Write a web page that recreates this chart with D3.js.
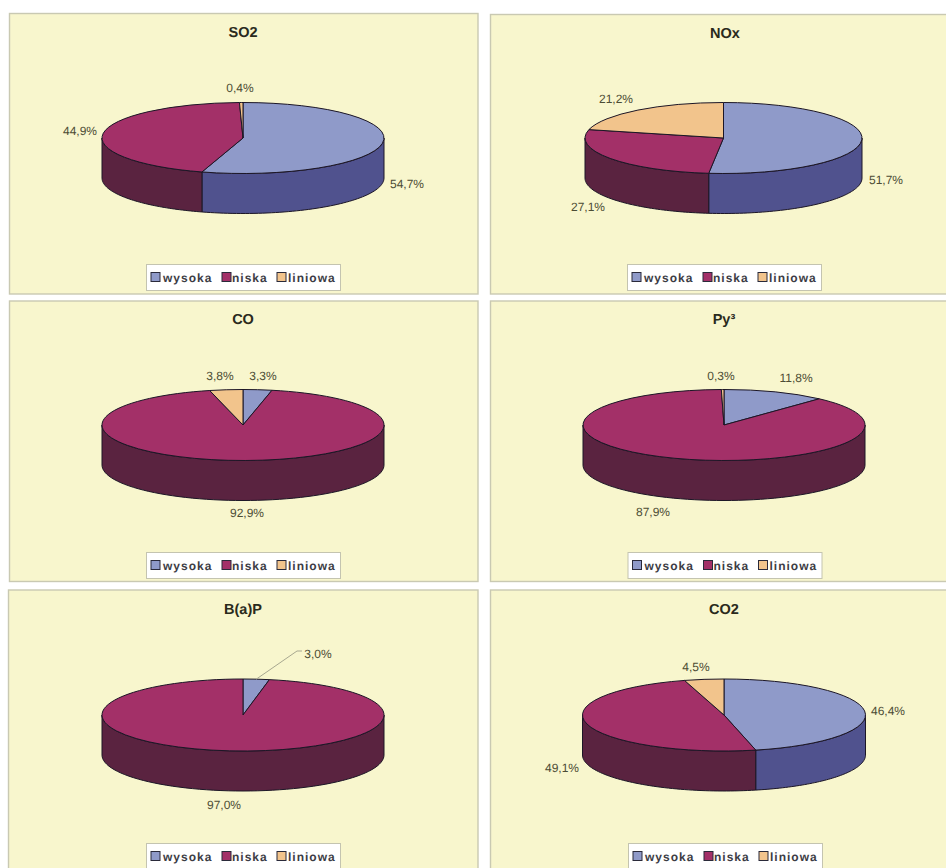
<!DOCTYPE html>
<html lang="pl">
<head>
<meta charset="utf-8">
<title>Emisje według źródeł</title>
<script src="https://cdn.jsdelivr.net/npm/d3@7/dist/d3.min.js"></script>
<style>
  html, body { margin: 0; padding: 0; background: #fff; overflow: hidden; }
  svg { display: block; font-family: "Liberation Sans", Arial, sans-serif; text-rendering: geometricPrecision; }
  .lab { font-size: 12px; fill: #4c4c34; text-anchor: middle; dominant-baseline: central; }
  .ttl { font-size: 14.5px; font-weight: bold; fill: #2a2a1c; text-anchor: middle; dominant-baseline: central; }
  .leg { font-size: 12px; font-weight: bold; fill: #3c3c44; letter-spacing: 1px; dominant-baseline: central; }
</style>
</head>
<body>
<svg id="chart" width="946" height="868"></svg>
<script>
// Share of emissions by source type, percent
const seriesNames = ["wysoka", "niska", "liniowa"];
const chartTitles = ["SO2", "NOx", "CO", "Py³", "B(a)P", "CO2"];
const so2Values = [54.7, 44.9, 0.4];
const noxValues = [51.7, 27.1, 21.2];
const coValues = [3.3, 92.9, 3.8];
const pyValues = [11.8, 87.9, 0.3];
const bapValues = [3.0, 97.0, 0];
const co2Values = [46.4, 49.1, 4.5];
const chartValues = [so2Values, noxValues, coValues, pyValues, bapValues, co2Values];

// Slice colours: lid and rim
const topColors = ["#8f9ac9", "#a33068", "#f2c48c"];
const sideColors = ["#50528e", "#5a2340", "#b08a5c"];

// Panel frames and disc placement
const panels = [
  { x: 9.5,  y: 13.5, w: 468.5, h: 280.5, cx: 243,   cy: 138, rx: 141,   ry: 35.5, titleX: 243, titleY: 33 },
  { x: 490.5, y: 14.5, w: 470,  h: 279.5, cx: 723.5, cy: 138, rx: 138.5, ry: 35.5, titleX: 725, titleY: 34 },
  { x: 9.5,  y: 301,  w: 468.5, h: 280.5, cx: 243,   cy: 425, rx: 141,   ry: 35.5, titleX: 243, titleY: 320 },
  { x: 490.5, y: 301, w: 470,   h: 280.5, cx: 724,   cy: 425, rx: 141,   ry: 35.5, titleX: 724, titleY: 320 },
  { x: 8.5,  y: 590,  w: 469.5, h: 280,   cx: 243,   cy: 715, rx: 141,   ry: 36,   titleX: 243, titleY: 610 },
  { x: 490.5, y: 590, w: 470,   h: 280,   cx: 724,   cy: 715, rx: 141.5, ry: 36,   titleX: 724, titleY: 610 }
];
const rimDepth = 40;

// Value label centres, one per series in each panel
const labelSpots = [
  [[407, 184], [80, 131], [240, 88]],
  [[886, 180], [588, 207], [616, 99]],
  [[263, 376], [247, 513], [220, 376]],
  [[796, 378], [653, 512], [721, 376]],
  [[318, 654], [224, 805], null],
  [[888, 711], [562, 768], [696, 667]]
];

// Legend box corners per panel
const legendSpots = [[146, 264], [627, 264], [146, 552], [627.5, 552], [146, 843], [628, 843]];
const legendOffsets = [
  { swatch: 5, text: 17 },
  { swatch: 76, text: 86 },
  { swatch: 131, text: 142 }
];

const svg = d3.select("#chart");
const pie = d3.pie().sort(null).value(d => d.value);
const percent = v => v.toFixed(1).replace(".", ",") + "%";

panels.forEach((p, i) => {
  const g = svg.append("g");

  g.append("rect")
    .attr("x", p.x).attr("y", p.y).attr("width", p.w).attr("height", p.h)
    .attr("fill", "#f8f6cd").attr("stroke", "#c9c9b2").attr("stroke-width", 1.4);

  g.append("text").attr("class", "ttl")
    .attr("x", p.titleX).attr("y", p.titleY).text(chartTitles[i]);

  const slices = pie(chartValues[i].map((value, s) => ({ value, s })))
    .filter(d => d.value > 0);

  // Point on the disc edge, angle measured clockwise from the top
  const rim = (a, drop) => [p.cx + p.rx * Math.sin(a), p.cy - p.ry * Math.cos(a) + drop];
  const line = d3.line();

  // Rim walls: only the front half of the disc faces the viewer
  slices.forEach(d => {
    const a0 = Math.max(d.startAngle, Math.PI / 2);
    const a1 = Math.min(d.endAngle, Math.PI * 3 / 2);
    if (a1 <= a0) return;
    const steps = d3.range(0, 61).map(k => a0 + (a1 - a0) * k / 60);
    const outline = steps.map(a => rim(a, 0))
      .concat(steps.slice().reverse().map(a => rim(a, rimDepth)));
    g.append("path")
      .attr("d", line(outline) + "Z")
      .attr("fill", sideColors[d.data.s])
      .attr("stroke", "#1c1626").attr("stroke-width", 1)
      .attr("stroke-linejoin", "round");
  });

  // Disc lid: a circular arc flattened into an ellipse
  const arc = d3.arc().innerRadius(0).outerRadius(p.rx);
  g.append("g")
    .attr("transform", `translate(${p.cx},${p.cy}) scale(1,${p.ry / p.rx})`)
    .selectAll("path").data(slices).join("path")
    .attr("d", arc)
    .attr("fill", d => topColors[d.data.s])
    .attr("stroke", "#1c1626").attr("stroke-width", 1)
    .attr("stroke-linejoin", "round")
    .attr("vector-effect", "non-scaling-stroke");

  // Value labels
  chartValues[i].forEach((v, s) => {
    const spot = labelSpots[i][s];
    if (!spot) return;
    g.append("text").attr("class", "lab")
      .attr("x", spot[0]).attr("y", spot[1]).text(percent(v));
  });

  // Legend
  const [lx, ly] = legendSpots[i];
  const leg = g.append("g").attr("transform", `translate(${lx},${ly})`);
  leg.append("rect")
    .attr("x", 0.5).attr("y", 0.5).attr("width", 194).attr("height", 26)
    .attr("fill", "#fff").attr("stroke", "#c4c4b0").attr("stroke-width", 1);
  seriesNames.forEach((name, s) => {
    const off = legendOffsets[s];
    leg.append("rect")
      .attr("x", off.swatch).attr("y", 8.5).attr("width", 9).attr("height", 9)
      .attr("fill", topColors[s]).attr("stroke", "#2a2a3a").attr("stroke-width", 1);
    leg.append("text").attr("class", "leg")
      .attr("x", off.text).attr("y", 13.5).text(name);
  });
});

// Leader line for the small B(a)P slice
{
  const p = panels[4];
  const mid = pie(bapValues.map(value => ({ value })))[0];
  const a = (mid.startAngle + mid.endAngle) / 2;
  const start = [p.cx + p.rx * Math.sin(a), p.cy - p.ry * Math.cos(a)];
  const spot = labelSpots[4][0];
  svg.append("path")
    .attr("d", d3.line()([start, [spot[0] - 21, spot[1] - 3], [spot[0] - 16, spot[1] - 3]]))
    .attr("fill", "none").attr("stroke", "#a8a890").attr("stroke-width", 1);
}
</script>
</body>
</html>
